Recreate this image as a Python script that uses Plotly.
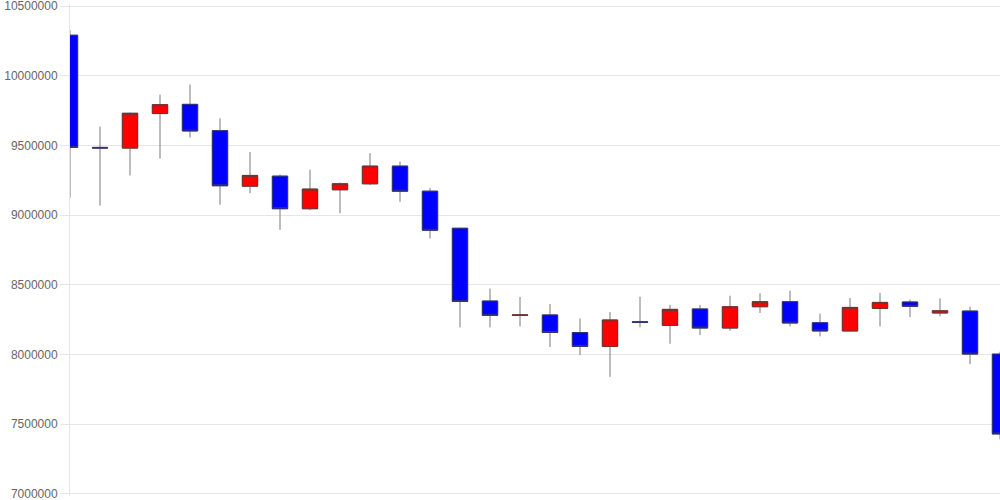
import plotly.graph_objects as go

days = list(range(32))

open_ = [10291000, 9486000, 9481000, 9729000, 9795000, 9606000, 9208000, 9280000,
         9046000, 9182000, 9225000, 9352000, 9172000, 8906000, 8384000, 8280000,
         8284000, 8158000, 8058000, 8235000, 8209000, 8327000, 8190000, 8343000,
         8379000, 8228000, 8169000, 8331000, 8377000, 8298000, 8312000, 8003000]
high = [10327000, 9635000, 9736000, 9865000, 9937000, 9695000, 9453000, 9292000,
        9326000, 9235000, 9445000, 9384000, 9194000, 8910000, 8473000, 8413000,
        8363000, 8259000, 8305000, 8415000, 8356000, 8356000, 8422000, 8439000,
        8458000, 8293000, 8406000, 8442000, 8394000, 8403000, 8343000, 8020000]
low = [9125000, 9069000, 9285000, 9405000, 9556000, 9074000, 9158000, 8895000,
       9036000, 9014000, 9215000, 9096000, 8832000, 8195000, 8195000, 8202000,
       8054000, 7996000, 7840000, 8195000, 8077000, 8140000, 8171000, 8298000,
       8202000, 8130000, 8164000, 8202000, 8269000, 8274000, 7931000, 7392000]
close = [9486000, 9482000, 9731000, 9793000, 9604000, 9211000, 9285000, 9046000,
         9187000, 9225000, 9352000, 9172000, 8892000, 8381000, 8281000, 8284000,
         8158000, 8058000, 8248000, 8231000, 8324000, 8190000, 8343000, 8379000,
         8226000, 8169000, 8338000, 8374000, 8346000, 8314000, 8003000, 7430000]

y_ticks = [7000000, 7500000, 8000000, 8500000, 9000000, 9500000, 10000000, 10500000]

# body-only extents (used to overlay bodies with coloured outlines on top of grey wicks)
body_top = [max(o, c) for o, c in zip(open_, close)]
body_bot = [min(o, c) for o, c in zip(open_, close)]

fig = go.Figure()
fig.add_trace(go.Candlestick(
    x=days, open=open_, high=high, low=low, close=close,
    increasing=dict(fillcolor="#ff0000", line=dict(color="#7a7a7a", width=1)),
    decreasing=dict(fillcolor="#0000ff", line=dict(color="#7a7a7a", width=1)),
    whiskerwidth=0, showlegend=False, hoverinfo="skip",
))
fig.add_trace(go.Candlestick(
    x=days, open=open_, high=body_top, low=body_bot, close=close,
    increasing=dict(fillcolor="#ff0000", line=dict(color="#6e3434", width=1)),
    decreasing=dict(fillcolor="#0000ff", line=dict(color="#34346e", width=1)),
    whiskerwidth=0, showlegend=False, hoverinfo="skip",
))

fig.update_layout(
    width=1000, height=500,
    margin=dict(l=70, r=0, t=4, b=4, autoexpand=False),
    paper_bgcolor="white", plot_bgcolor="white",
    boxgap=0.27, boxmode="overlay",
    font=dict(family="Liberation Sans, Arial, sans-serif", size=12, color="#666666"),
    xaxis=dict(
        range=[0, 31], showticklabels=False, showgrid=False, zeroline=False,
        showline=False,
        rangeslider=dict(visible=False), fixedrange=True,
    ),
    yaxis=dict(
        range=[6985000, 10515000], tickvals=y_ticks,
        ticktext=[str(v) for v in y_ticks],
        showgrid=True, gridcolor="#e6e6e6", gridwidth=1, zeroline=False,
        showline=True, linecolor="#e6e6e6", linewidth=1,
        ticks="outside", ticklen=9, tickcolor="#e6e6e6",
        tickfont=dict(size=12, color="#666666"),
        ticklabeloverflow="allow",
        automargin=False, fixedrange=True,
    ),
)

fig.write_html(
    "out.html",
    config={"displayModeBar": False, "staticPlot": True},
    post_script="document.body.style.margin='0';document.body.style.overflow='hidden';",
)
